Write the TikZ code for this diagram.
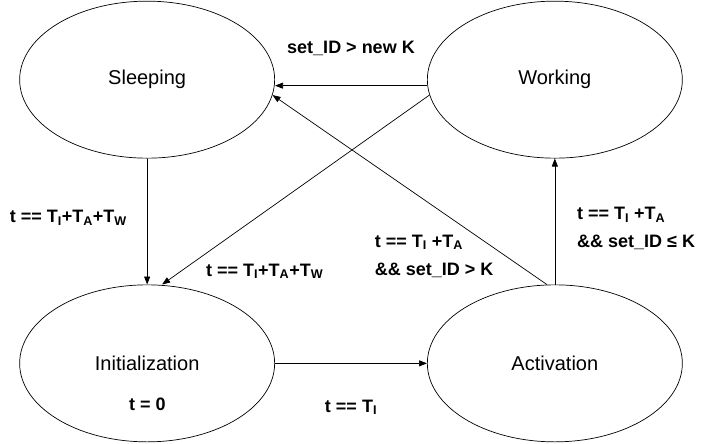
\documentclass[tikz,border=0pt]{standalone}
\usepackage{fontspec}
\setmainfont{Liberation Sans}
\usetikzlibrary{shapes.geometric}
\usetikzlibrary{matrix}
\usetikzlibrary{arrows.meta}

\tikzset{
  state/.style={ellipse,draw,line width=0.7pt,minimum width=255pt,minimum height=157pt,inner sep=0pt,
    font=\fontsize{20}{24}\selectfont},
  cond/.style={inner sep=0pt,align=left,font=\fontsize{18}{28}\selectfont\bfseries}
}

\begin{document}
\begin{tikzpicture}[x=1pt,y=-1pt]
  \useasboundingbox (0,0) rectangle (701,444);
  \matrix (m) [matrix of nodes,nodes=state,row sep=126pt,column sep=152pt] at (351,221.5)
  {
     Sleeping & Working \\
     Initialization & Activation \\};
  \node (tzero) [cond] at (147.5,404) {t = 0};
  \coordinate (ws) at ([yshift=-6pt]m-1-2.west);
  \coordinate (we) at ([yshift=-6pt]m-1-1.east);
  \path[-{Stealth[length=8pt,width=6pt,inset=0pt]},line width=0.7pt]
    (m-1-1) edge node (lsi) [cond,left=20pt,yshift=4pt] {t == T\textsubscript{I}+T\textsubscript{A}+T\textsubscript{W}} (m-2-1)
    (m-2-1) edge node (lia) [cond,below=36pt] {t == T\textsubscript{I}} (m-2-2)
    (m-2-2) edge node (law) [cond,right=22pt,yshift=-7pt] {t == T\textsubscript{I} +T\textsubscript{A}\\\&\& set\_ID ≤ K} (m-1-2)
    (ws) edge node (lws) [cond,above=30pt] {set\_ID > new K} (we)
    ([xshift=-8pt]m-2-2.north) edge node (las) [cond,pos=0.15,left=12pt] {t == T\textsubscript{I} +T\textsubscript{A}\\\&\& set\_ID > K} (m-1-1.-7)
    (m-1-2.187) edge node (lwi) [cond,pos=0.93,right=25pt] {t == T\textsubscript{I}+T\textsubscript{A}+T\textsubscript{W}} ([xshift=15pt]m-2-1.north);
\end{tikzpicture}
\end{document}
